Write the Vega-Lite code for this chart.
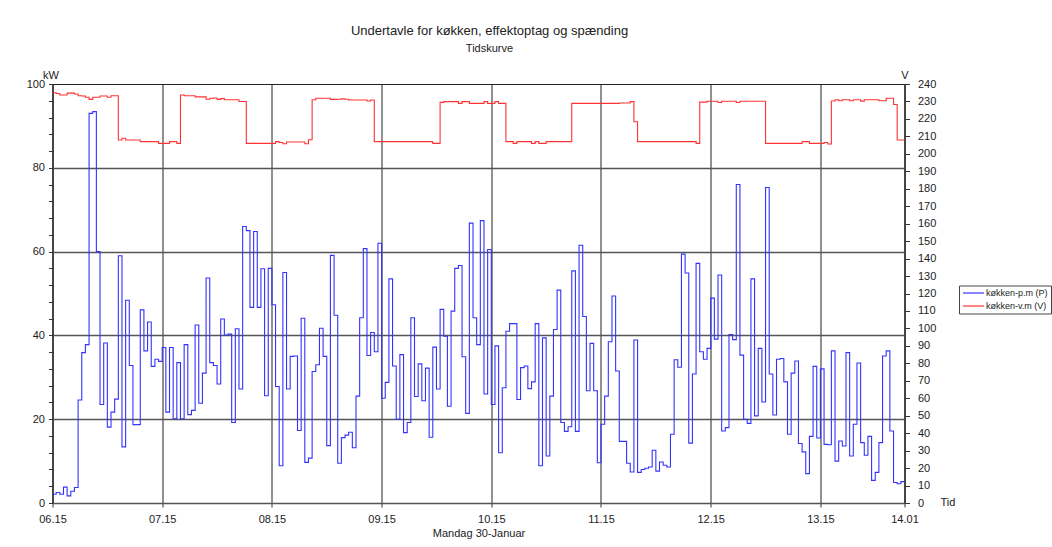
{
  "$schema": "https://vega.github.io/schema/vega-lite/v6.json",
  "width": 852,
  "height": 419,
  "autosize": {"type": "none"},
  "padding": {"left": 52.5, "top": 84, "right": 147.5, "bottom": 44},
  "background": "white",
  "config": {
    "font": "Liberation Sans",
    "view": {"stroke": "#222", "strokeWidth": 1}
  },
  "title": {
    "text": "Undertavle for køkken, effektoptag og spænding",
    "subtitle": "Tidskurve",
    "anchor": "middle",
    "frame": "group",
    "dx": 11,
    "fontSize": 13,
    "fontWeight": "normal",
    "color": "#222",
    "subtitleFontSize": 11,
    "subtitleColor": "#222",
    "subtitlePadding": 5,
    "offset": 15
  },
  "data": {
    "values": [
      {"tid": "2023-01-30T06:15", "P": 2.1, "V": 235.0},
      {"tid": "2023-01-30T06:17", "P": 2.5, "V": 234.6},
      {"tid": "2023-01-30T06:19", "P": 2.1, "V": 233.7},
      {"tid": "2023-01-30T06:21", "P": 3.8, "V": 233.7},
      {"tid": "2023-01-30T06:23", "P": 1.7, "V": 234.8},
      {"tid": "2023-01-30T06:25", "P": 2.8, "V": 234.8},
      {"tid": "2023-01-30T06:27", "P": 3.7, "V": 234.3},
      {"tid": "2023-01-30T06:29", "P": 24.6, "V": 233.3},
      {"tid": "2023-01-30T06:31", "P": 35.9, "V": 233.1},
      {"tid": "2023-01-30T06:33", "P": 37.8, "V": 232.4},
      {"tid": "2023-01-30T06:35", "P": 93.0, "V": 231.2},
      {"tid": "2023-01-30T06:37", "P": 93.4, "V": 232.4},
      {"tid": "2023-01-30T06:39", "P": 60.0, "V": 232.4},
      {"tid": "2023-01-30T06:41", "P": 23.5, "V": 233.1},
      {"tid": "2023-01-30T06:43", "P": 38.2, "V": 233.1},
      {"tid": "2023-01-30T06:45", "P": 18.1, "V": 232.4},
      {"tid": "2023-01-30T06:47", "P": 21.7, "V": 233.3},
      {"tid": "2023-01-30T06:49", "P": 24.8, "V": 233.3},
      {"tid": "2023-01-30T06:51", "P": 59.0, "V": 207.9},
      {"tid": "2023-01-30T06:53", "P": 13.4, "V": 208.9},
      {"tid": "2023-01-30T06:55", "P": 48.4, "V": 207.9},
      {"tid": "2023-01-30T06:57", "P": 32.8, "V": 207.9},
      {"tid": "2023-01-30T06:59", "P": 18.7, "V": 207.9},
      {"tid": "2023-01-30T07:01", "P": 18.7, "V": 207.9},
      {"tid": "2023-01-30T07:03", "P": 46.1, "V": 207.0},
      {"tid": "2023-01-30T07:05", "P": 36.3, "V": 207.0},
      {"tid": "2023-01-30T07:07", "P": 43.2, "V": 207.0},
      {"tid": "2023-01-30T07:09", "P": 32.6, "V": 207.0},
      {"tid": "2023-01-30T07:11", "P": 34.3, "V": 207.0},
      {"tid": "2023-01-30T07:13", "P": 33.8, "V": 206.0},
      {"tid": "2023-01-30T07:15", "P": 37.1, "V": 206.0},
      {"tid": "2023-01-30T07:17", "P": 21.7, "V": 206.0},
      {"tid": "2023-01-30T07:19", "P": 37.1, "V": 207.0},
      {"tid": "2023-01-30T07:21", "P": 20.1, "V": 207.0},
      {"tid": "2023-01-30T07:23", "P": 33.5, "V": 206.0},
      {"tid": "2023-01-30T07:25", "P": 20.1, "V": 233.7},
      {"tid": "2023-01-30T07:27", "P": 37.8, "V": 233.3},
      {"tid": "2023-01-30T07:29", "P": 21.1, "V": 233.3},
      {"tid": "2023-01-30T07:31", "P": 22.1, "V": 233.3},
      {"tid": "2023-01-30T07:33", "P": 42.5, "V": 232.6},
      {"tid": "2023-01-30T07:35", "P": 23.8, "V": 232.6},
      {"tid": "2023-01-30T07:37", "P": 31.0, "V": 232.6},
      {"tid": "2023-01-30T07:39", "P": 53.7, "V": 231.3},
      {"tid": "2023-01-30T07:41", "P": 33.5, "V": 231.8},
      {"tid": "2023-01-30T07:43", "P": 32.8, "V": 232.0},
      {"tid": "2023-01-30T07:45", "P": 28.4, "V": 231.2},
      {"tid": "2023-01-30T07:47", "P": 43.9, "V": 231.6},
      {"tid": "2023-01-30T07:49", "P": 40.1, "V": 231.0},
      {"tid": "2023-01-30T07:51", "P": 40.3, "V": 231.0},
      {"tid": "2023-01-30T07:53", "P": 19.2, "V": 231.0},
      {"tid": "2023-01-30T07:55", "P": 41.6, "V": 231.0},
      {"tid": "2023-01-30T07:57", "P": 27.2, "V": 230.0},
      {"tid": "2023-01-30T07:59", "P": 66.0, "V": 230.0},
      {"tid": "2023-01-30T08:01", "P": 65.0, "V": 206.0},
      {"tid": "2023-01-30T08:03", "P": 46.7, "V": 206.0},
      {"tid": "2023-01-30T08:05", "P": 64.8, "V": 206.0},
      {"tid": "2023-01-30T08:07", "P": 46.7, "V": 206.0},
      {"tid": "2023-01-30T08:09", "P": 55.9, "V": 206.0},
      {"tid": "2023-01-30T08:11", "P": 25.6, "V": 206.0},
      {"tid": "2023-01-30T08:13", "P": 56.0, "V": 206.0},
      {"tid": "2023-01-30T08:15", "P": 47.3, "V": 206.0},
      {"tid": "2023-01-30T08:17", "P": 27.8, "V": 207.0},
      {"tid": "2023-01-30T08:19", "P": 8.9, "V": 206.5},
      {"tid": "2023-01-30T08:21", "P": 55.0, "V": 205.8},
      {"tid": "2023-01-30T08:23", "P": 27.2, "V": 206.8},
      {"tid": "2023-01-30T08:25", "P": 35.0, "V": 206.8},
      {"tid": "2023-01-30T08:27", "P": 35.1, "V": 206.8},
      {"tid": "2023-01-30T08:29", "P": 17.3, "V": 206.8},
      {"tid": "2023-01-30T08:31", "P": 44.1, "V": 206.8},
      {"tid": "2023-01-30T08:33", "P": 9.7, "V": 205.8},
      {"tid": "2023-01-30T08:35", "P": 10.7, "V": 208.1},
      {"tid": "2023-01-30T08:37", "P": 31.4, "V": 231.0},
      {"tid": "2023-01-30T08:39", "P": 33.0, "V": 231.8},
      {"tid": "2023-01-30T08:41", "P": 41.7, "V": 231.8},
      {"tid": "2023-01-30T08:43", "P": 35.0, "V": 231.8},
      {"tid": "2023-01-30T08:45", "P": 13.7, "V": 231.8},
      {"tid": "2023-01-30T08:47", "P": 59.1, "V": 231.2},
      {"tid": "2023-01-30T08:49", "P": 44.8, "V": 231.2},
      {"tid": "2023-01-30T08:51", "P": 9.5, "V": 231.3},
      {"tid": "2023-01-30T08:53", "P": 15.6, "V": 231.5},
      {"tid": "2023-01-30T08:55", "P": 16.2, "V": 231.3},
      {"tid": "2023-01-30T08:57", "P": 16.9, "V": 230.8},
      {"tid": "2023-01-30T08:59", "P": 13.2, "V": 230.8},
      {"tid": "2023-01-30T09:01", "P": 25.5, "V": 230.8},
      {"tid": "2023-01-30T09:03", "P": 44.2, "V": 230.8},
      {"tid": "2023-01-30T09:05", "P": 60.7, "V": 230.8},
      {"tid": "2023-01-30T09:07", "P": 35.2, "V": 230.3},
      {"tid": "2023-01-30T09:09", "P": 40.7, "V": 230.8},
      {"tid": "2023-01-30T09:11", "P": 36.1, "V": 207.0},
      {"tid": "2023-01-30T09:13", "P": 62.0, "V": 207.0},
      {"tid": "2023-01-30T09:15", "P": 25.0, "V": 207.0},
      {"tid": "2023-01-30T09:17", "P": 28.8, "V": 207.0},
      {"tid": "2023-01-30T09:19", "P": 53.5, "V": 207.0},
      {"tid": "2023-01-30T09:21", "P": 32.7, "V": 207.0},
      {"tid": "2023-01-30T09:23", "P": 20.0, "V": 207.0},
      {"tid": "2023-01-30T09:25", "P": 35.4, "V": 207.0},
      {"tid": "2023-01-30T09:27", "P": 16.8, "V": 207.0},
      {"tid": "2023-01-30T09:29", "P": 19.2, "V": 207.0},
      {"tid": "2023-01-30T09:31", "P": 44.2, "V": 207.0},
      {"tid": "2023-01-30T09:33", "P": 25.4, "V": 207.0},
      {"tid": "2023-01-30T09:35", "P": 33.2, "V": 207.0},
      {"tid": "2023-01-30T09:37", "P": 24.4, "V": 207.0},
      {"tid": "2023-01-30T09:39", "P": 32.2, "V": 207.0},
      {"tid": "2023-01-30T09:41", "P": 15.7, "V": 207.0},
      {"tid": "2023-01-30T09:43", "P": 37.2, "V": 206.0},
      {"tid": "2023-01-30T09:45", "P": 27.2, "V": 206.0},
      {"tid": "2023-01-30T09:47", "P": 46.2, "V": 229.5},
      {"tid": "2023-01-30T09:49", "P": 39.8, "V": 229.9},
      {"tid": "2023-01-30T09:51", "P": 23.1, "V": 229.9},
      {"tid": "2023-01-30T09:53", "P": 45.8, "V": 229.9},
      {"tid": "2023-01-30T09:55", "P": 56.0, "V": 229.9},
      {"tid": "2023-01-30T09:57", "P": 56.7, "V": 228.9},
      {"tid": "2023-01-30T09:59", "P": 34.9, "V": 229.9},
      {"tid": "2023-01-30T10:01", "P": 21.4, "V": 229.9},
      {"tid": "2023-01-30T10:03", "P": 66.8, "V": 228.9},
      {"tid": "2023-01-30T10:05", "P": 44.2, "V": 228.9},
      {"tid": "2023-01-30T10:07", "P": 37.8, "V": 228.9},
      {"tid": "2023-01-30T10:09", "P": 67.4, "V": 228.9},
      {"tid": "2023-01-30T10:11", "P": 26.0, "V": 229.9},
      {"tid": "2023-01-30T10:13", "P": 60.5, "V": 228.9},
      {"tid": "2023-01-30T10:15", "P": 23.5, "V": 228.9},
      {"tid": "2023-01-30T10:17", "P": 37.5, "V": 229.9},
      {"tid": "2023-01-30T10:19", "P": 12.0, "V": 228.9},
      {"tid": "2023-01-30T10:21", "P": 27.5, "V": 228.9},
      {"tid": "2023-01-30T10:23", "P": 41.0, "V": 207.0},
      {"tid": "2023-01-30T10:25", "P": 42.8, "V": 207.0},
      {"tid": "2023-01-30T10:27", "P": 42.8, "V": 206.0},
      {"tid": "2023-01-30T10:29", "P": 24.7, "V": 207.0},
      {"tid": "2023-01-30T10:31", "P": 32.3, "V": 207.0},
      {"tid": "2023-01-30T10:33", "P": 32.7, "V": 207.0},
      {"tid": "2023-01-30T10:35", "P": 27.3, "V": 207.0},
      {"tid": "2023-01-30T10:37", "P": 28.9, "V": 206.0},
      {"tid": "2023-01-30T10:39", "P": 42.8, "V": 207.0},
      {"tid": "2023-01-30T10:41", "P": 8.9, "V": 206.0},
      {"tid": "2023-01-30T10:43", "P": 39.4, "V": 206.0},
      {"tid": "2023-01-30T10:45", "P": 11.2, "V": 207.0},
      {"tid": "2023-01-30T10:47", "P": 25.5, "V": 207.0},
      {"tid": "2023-01-30T10:49", "P": 41.4, "V": 207.0},
      {"tid": "2023-01-30T10:51", "P": 50.8, "V": 207.0},
      {"tid": "2023-01-30T10:53", "P": 19.2, "V": 207.0},
      {"tid": "2023-01-30T10:55", "P": 17.1, "V": 207.0},
      {"tid": "2023-01-30T10:57", "P": 18.2, "V": 207.0},
      {"tid": "2023-01-30T10:59", "P": 55.4, "V": 228.9},
      {"tid": "2023-01-30T11:01", "P": 17.1, "V": 228.9},
      {"tid": "2023-01-30T11:03", "P": 61.5, "V": 228.9},
      {"tid": "2023-01-30T11:05", "P": 44.5, "V": 228.9},
      {"tid": "2023-01-30T11:07", "P": 26.8, "V": 228.9},
      {"tid": "2023-01-30T11:09", "P": 38.1, "V": 228.9},
      {"tid": "2023-01-30T11:11", "P": 26.8, "V": 228.9},
      {"tid": "2023-01-30T11:13", "P": 9.6, "V": 228.9},
      {"tid": "2023-01-30T11:15", "P": 18.8, "V": 228.9},
      {"tid": "2023-01-30T11:17", "P": 25.5, "V": 228.9},
      {"tid": "2023-01-30T11:19", "P": 38.5, "V": 228.9},
      {"tid": "2023-01-30T11:21", "P": 49.4, "V": 228.9},
      {"tid": "2023-01-30T11:23", "P": 31.5, "V": 228.9},
      {"tid": "2023-01-30T11:25", "P": 14.7, "V": 229.1},
      {"tid": "2023-01-30T11:27", "P": 14.7, "V": 229.1},
      {"tid": "2023-01-30T11:29", "P": 9.5, "V": 229.1},
      {"tid": "2023-01-30T11:31", "P": 7.4, "V": 229.9},
      {"tid": "2023-01-30T11:33", "P": 38.9, "V": 218.4},
      {"tid": "2023-01-30T11:35", "P": 7.3, "V": 207.0},
      {"tid": "2023-01-30T11:37", "P": 8.0, "V": 207.0},
      {"tid": "2023-01-30T11:39", "P": 8.3, "V": 207.0},
      {"tid": "2023-01-30T11:41", "P": 8.6, "V": 207.0},
      {"tid": "2023-01-30T11:43", "P": 12.6, "V": 207.0},
      {"tid": "2023-01-30T11:45", "P": 7.6, "V": 207.0},
      {"tid": "2023-01-30T11:47", "P": 9.8, "V": 207.0},
      {"tid": "2023-01-30T11:49", "P": 9.0, "V": 207.0},
      {"tid": "2023-01-30T11:51", "P": 8.6, "V": 207.0},
      {"tid": "2023-01-30T11:53", "P": 16.4, "V": 207.0},
      {"tid": "2023-01-30T11:55", "P": 34.2, "V": 207.0},
      {"tid": "2023-01-30T11:57", "P": 32.4, "V": 207.0},
      {"tid": "2023-01-30T11:59", "P": 59.4, "V": 207.0},
      {"tid": "2023-01-30T12:01", "P": 54.9, "V": 207.0},
      {"tid": "2023-01-30T12:03", "P": 14.3, "V": 207.0},
      {"tid": "2023-01-30T12:05", "P": 30.8, "V": 207.0},
      {"tid": "2023-01-30T12:07", "P": 57.2, "V": 206.0},
      {"tid": "2023-01-30T12:09", "P": 36.1, "V": 229.6},
      {"tid": "2023-01-30T12:11", "P": 34.3, "V": 229.6},
      {"tid": "2023-01-30T12:13", "P": 36.9, "V": 230.1},
      {"tid": "2023-01-30T12:15", "P": 48.9, "V": 230.1},
      {"tid": "2023-01-30T12:17", "P": 39.1, "V": 230.1},
      {"tid": "2023-01-30T12:19", "P": 54.4, "V": 229.4},
      {"tid": "2023-01-30T12:21", "P": 17.2, "V": 230.1},
      {"tid": "2023-01-30T12:23", "P": 18.0, "V": 230.1},
      {"tid": "2023-01-30T12:25", "P": 40.2, "V": 230.1},
      {"tid": "2023-01-30T12:27", "P": 39.0, "V": 230.1},
      {"tid": "2023-01-30T12:29", "P": 76.0, "V": 229.4},
      {"tid": "2023-01-30T12:31", "P": 35.3, "V": 230.1},
      {"tid": "2023-01-30T12:33", "P": 20.0, "V": 230.1},
      {"tid": "2023-01-30T12:35", "P": 19.0, "V": 230.1},
      {"tid": "2023-01-30T12:37", "P": 53.5, "V": 230.1},
      {"tid": "2023-01-30T12:39", "P": 20.8, "V": 230.1},
      {"tid": "2023-01-30T12:41", "P": 36.9, "V": 230.1},
      {"tid": "2023-01-30T12:43", "P": 24.1, "V": 230.1},
      {"tid": "2023-01-30T12:45", "P": 75.3, "V": 206.0},
      {"tid": "2023-01-30T12:47", "P": 30.8, "V": 206.0},
      {"tid": "2023-01-30T12:49", "P": 21.0, "V": 206.0},
      {"tid": "2023-01-30T12:51", "P": 34.3, "V": 206.0},
      {"tid": "2023-01-30T12:53", "P": 34.5, "V": 206.0},
      {"tid": "2023-01-30T12:55", "P": 28.9, "V": 206.0},
      {"tid": "2023-01-30T12:57", "P": 16.4, "V": 206.0},
      {"tid": "2023-01-30T12:59", "P": 31.0, "V": 206.0},
      {"tid": "2023-01-30T13:01", "P": 33.9, "V": 206.0},
      {"tid": "2023-01-30T13:03", "P": 14.2, "V": 206.0},
      {"tid": "2023-01-30T13:05", "P": 12.2, "V": 207.0},
      {"tid": "2023-01-30T13:07", "P": 7.0, "V": 207.0},
      {"tid": "2023-01-30T13:09", "P": 15.9, "V": 206.0},
      {"tid": "2023-01-30T13:11", "P": 32.6, "V": 206.0},
      {"tid": "2023-01-30T13:13", "P": 15.5, "V": 206.0},
      {"tid": "2023-01-30T13:15", "P": 32.0, "V": 206.0},
      {"tid": "2023-01-30T13:17", "P": 14.0, "V": 206.5},
      {"tid": "2023-01-30T13:19", "P": 13.9, "V": 205.6},
      {"tid": "2023-01-30T13:21", "P": 36.3, "V": 230.3},
      {"tid": "2023-01-30T13:23", "P": 10.0, "V": 231.0},
      {"tid": "2023-01-30T13:25", "P": 14.8, "V": 230.4},
      {"tid": "2023-01-30T13:27", "P": 13.6, "V": 231.0},
      {"tid": "2023-01-30T13:29", "P": 35.9, "V": 231.0},
      {"tid": "2023-01-30T13:31", "P": 11.2, "V": 230.4},
      {"tid": "2023-01-30T13:33", "P": 18.8, "V": 231.0},
      {"tid": "2023-01-30T13:35", "P": 33.4, "V": 231.0},
      {"tid": "2023-01-30T13:37", "P": 14.4, "V": 230.2},
      {"tid": "2023-01-30T13:39", "P": 11.4, "V": 231.0},
      {"tid": "2023-01-30T13:41", "P": 15.9, "V": 231.0},
      {"tid": "2023-01-30T13:43", "P": 5.4, "V": 231.0},
      {"tid": "2023-01-30T13:45", "P": 7.3, "V": 231.0},
      {"tid": "2023-01-30T13:47", "P": 14.4, "V": 230.4},
      {"tid": "2023-01-30T13:49", "P": 35.1, "V": 230.4},
      {"tid": "2023-01-30T13:51", "P": 36.3, "V": 231.8},
      {"tid": "2023-01-30T13:53", "P": 17.2, "V": 231.8},
      {"tid": "2023-01-30T13:55", "P": 4.9, "V": 228.3},
      {"tid": "2023-01-30T13:57", "P": 4.6, "V": 207.9},
      {"tid": "2023-01-30T13:59", "P": 5.1, "V": 207.9},
      {"tid": "2023-01-30T14:01", "P": 5.1, "V": 207.9}
    ]
  },
  "layer": [
    {
      "mark": {"type": "line", "interpolate": "step-after", "strokeWidth": 1.1},
      "encoding": {
        "x": {
          "field": "tid",
          "type": "temporal",
          "scale": {
            "domain": [
              {"year": 2023, "month": 1, "date": 30, "hours": 6, "minutes": 15},
              {"year": 2023, "month": 1, "date": 30, "hours": 14, "minutes": 1}
            ],
            "nice": false
          },
          "axis": {
            "values": [
              {"year": 2023, "month": 1, "date": 30, "hours": 6, "minutes": 15},
              {"year": 2023, "month": 1, "date": 30, "hours": 7, "minutes": 15},
              {"year": 2023, "month": 1, "date": 30, "hours": 8, "minutes": 15},
              {"year": 2023, "month": 1, "date": 30, "hours": 9, "minutes": 15},
              {"year": 2023, "month": 1, "date": 30, "hours": 10, "minutes": 15},
              {"year": 2023, "month": 1, "date": 30, "hours": 11, "minutes": 15},
              {"year": 2023, "month": 1, "date": 30, "hours": 12, "minutes": 15},
              {"year": 2023, "month": 1, "date": 30, "hours": 13, "minutes": 15},
              {"year": 2023, "month": 1, "date": 30, "hours": 14, "minutes": 1}
            ],
            "format": "%H.%M",
            "labelFlush": false,
            "labelOverlap": false,
            "grid": true,
            "gridColor": "#222",
            "gridWidth": 1,
            "domainColor": "#555",
            "domainWidth": 1.5,
            "tickColor": "#333",
            "tickSize": 4,
            "labelFontSize": 11,
            "labelColor": "#222",
            "labelPadding": 6,
            "title": "Mandag 30-Januar",
            "titleFontSize": 11,
            "titleFontWeight": "normal",
            "titleColor": "#222",
            "titlePadding": 3
          }
        },
        "y": {
          "field": "P",
          "type": "quantitative",
          "scale": {"domain": [0, 100], "nice": false},
          "axis": {
            "values": [0, 4, 8, 12, 16, 20, 24, 28, 32, 36, 40, 44, 48, 52, 56, 60, 64, 68, 72, 76, 80, 84, 88, 92, 96, 100],
            "labelExpr": "datum.value % 20 === 0 ? datum.label : ''",
            "labelOverlap": false,
            "grid": true,
            "gridColor": "#555",
            "gridWidth": 1.5,
            "gridOpacity": {"condition": {"test": "datum.value % 20 === 0 && datum.value > 0 && datum.value < 100", "value": 1}, "value": 0},
            "domainColor": "#333",
            "tickColor": "#333",
            "tickSize": 4,
            "labelFontSize": 11,
            "labelColor": "#222",
            "labelPadding": 4,
            "title": "kW",
            "titleAngle": 0,
            "titleX": -2,
            "titleY": -6,
            "titleAlign": "center",
            "titleBaseline": "alphabetic",
            "titleFontSize": 11,
            "titleFontWeight": "normal",
            "titleColor": "#222"
          }
        },
        "color": {
          "datum": "køkken-p.m (P)",
          "scale": {"domain": ["køkken-p.m (P)", "køkken-v.m (V)"], "range": ["#3333ff", "#ff3333"]},
          "legend": {
            "orient": "none",
            "legendX": 906.5,
            "legendY": 201.5,
            "title": null,
            "strokeColor": "#444",
            "fillColor": "white",
            "padding": 2.5,
            "symbolType": "M-2.625,0L2.625,0",
            "symbolSize": 64,
            "symbolStrokeWidth": 1.2,
            "symbolOffset": 7,
            "labelOffset": 7.5,
            "labelFontSize": 9,
            "labelColor": "#222",
            "rowPadding": 3
          }
        }
      }
    },
    {
      "mark": {"type": "line", "interpolate": "step-after", "strokeWidth": 1.1},
      "encoding": {
        "x": {"field": "tid", "type": "temporal"},
        "y": {
          "field": "V",
          "type": "quantitative",
          "scale": {"domain": [0, 240], "nice": false},
          "axis": {
            "orient": "right",
            "values": [0, 10, 20, 30, 40, 50, 60, 70, 80, 90, 100, 110, 120, 130, 140, 150, 160, 170, 180, 190, 200, 210, 220, 230, 240],
            "labelOverlap": false,
            "grid": false,
            "domainColor": "#333",
            "tickColor": "#333",
            "tickSize": 5,
            "labelFontSize": 11,
            "labelColor": "#222",
            "labelPadding": 8,
            "title": "V",
            "titleAngle": 0,
            "titleX": 0,
            "titleY": -6,
            "titleAlign": "center",
            "titleBaseline": "alphabetic",
            "titleFontSize": 11,
            "titleFontWeight": "normal",
            "titleColor": "#222"
          }
        },
        "color": {"datum": "køkken-v.m (V)"}
      }
    },
    {
      "data": {"values": [{"label": "Tid"}]},
      "mark": {"type": "text", "align": "left", "baseline": "middle", "dx": 36, "fontSize": 11, "color": "#222"},
      "encoding": {
        "x": {"datum": {"year": 2023, "month": 1, "date": 30, "hours": 14, "minutes": 1}, "type": "temporal"},
        "y": {"datum": 0, "type": "quantitative", "scale": {"domain": [0, 100], "nice": false}, "axis": null},
        "text": {"field": "label"}
      }
    }
  ],
  "resolve": {"scale": {"y": "independent"}}
}
